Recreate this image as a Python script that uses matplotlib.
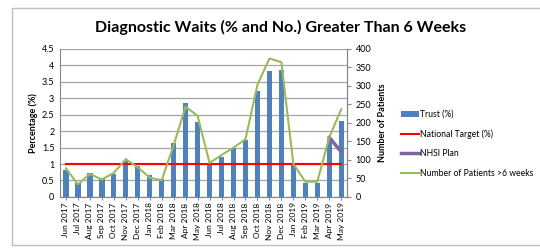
import matplotlib.pyplot as plt
import numpy as np
from matplotlib.patches import Rectangle

months = ['Jun 2017', 'Jul 2017', 'Aug 2017', 'Sep 2017', 'Oct 2017', 'Nov 2017',
          'Dec 2017', 'Jan 2018', 'Feb 2018', 'Mar 2018', 'Apr 2018', 'May 2018',
          'Jun 2018', 'Jul 2018', 'Aug 2018', 'Sep 2018', 'Oct 2018', 'Nov 2018',
          'Dec 2018', 'Jan 2019', 'Feb 2019', 'Mar 2019', 'Apr 2019', 'May 2019']
trust_pct = [0.83, 0.41, 0.74, 0.56, 0.71, 1.09, 0.94, 0.66, 0.53, 1.65, 2.85, 2.28,
             1.04, 1.20, 1.48, 1.73, 3.21, 3.82, 3.87, 1.00, 0.43, 0.43, 1.77, 2.30]
national_target = [1.0] * len(months)
nhsi_plan = [None] * 22 + [1.81, 1.37]
patients = [77, 34, 62, 47, 65, 102, 80, 52, 45, 140, 244, 219,
            92, 113, 133, 156, 303, 374, 364, 89, 41, 41, 161, 237]

plt.rcParams['font.family'] = ['Lato', 'DejaVu Sans']

fig = plt.figure(figsize=(5.4, 2.48), dpi=100)
fig.patches.append(Rectangle((0.022, 0.012), 1.2, 0.956, transform=fig.transFigure,
                             fill=False, edgecolor='#BFBFBF', linewidth=1))
ax = fig.add_axes([0.111, 0.206, 0.532, 0.597])
ax2 = ax.twinx()

x = np.arange(len(months))
bars = ax.bar(x, trust_pct, width=0.45, color='#4F81BD', label='Trust (%)', zorder=2)
red, = ax.plot(x, national_target, color='#FF0000', linewidth=1.5,
               label='National Target (%)', zorder=3)
nhsi = np.array([np.nan if v is None else v for v in nhsi_plan])
purple, = ax.plot(x, nhsi, color='#8064A2', linewidth=2.5, label='NHSI Plan', zorder=4)
green, = ax2.plot(x, patients, color='#9BBB59', linewidth=1.5,
                  label='Number of Patients >6 weeks')

ax.set_xlim(-0.5, len(months) - 0.5)
ax.set_ylim(0, 4.5)
ax.set_yticks(np.arange(0, 4.51, 0.5))
ax.set_yticklabels(['0', '0.5', '1', '1.5', '2', '2.5', '3', '3.5', '4', '4.5'])
ax2.set_ylim(0, 400)
ax2.set_yticks(np.arange(0, 401, 50))
ax.yaxis.grid(True, color='#A6A6A6', linewidth=0.9, zorder=0)
ax.set_axisbelow(True)

ax.set_xticks(x)
ax.set_xticklabels(months, rotation=90, fontsize=6)
ax.tick_params(axis='y', labelsize=6.5, length=0, pad=4)
ax.tick_params(axis='x', length=2.5, color='#868686', pad=1.5)
ax2.tick_params(axis='y', labelsize=6.5, length=3, color='#868686', pad=3)

for a in (ax, ax2):
    a.spines['top'].set_visible(False)
    for s in ('left', 'right', 'bottom'):
        a.spines[s].set_color('#868686')
ax2.spines['left'].set_visible(False)

ax.set_ylabel('Percentage (%)', fontsize=6.5, fontweight='bold', labelpad=3)
ax2.set_ylabel('Number of Patients', fontsize=6.5, fontweight='bold', labelpad=5)

fig.text(0.52, 0.89, 'Diagnostic Waits (% and No.) Greater Than 6 Weeks',
         ha='center', va='center', fontsize=11.5, fontweight='bold')

fig.legend([bars, red, purple, green],
           ['Trust (%)', 'National Target (%)', 'NHSI Plan', 'Number of Patients >6 weeks'],
           loc='center left', bbox_to_anchor=(0.742, 0.42),
           frameon=False, fontsize=6.2, handlelength=2.1, handleheight=0.6,
           handletextpad=0.1, labelspacing=1.2, borderaxespad=0, borderpad=0)

fig.savefig('out.png', dpi=100)
